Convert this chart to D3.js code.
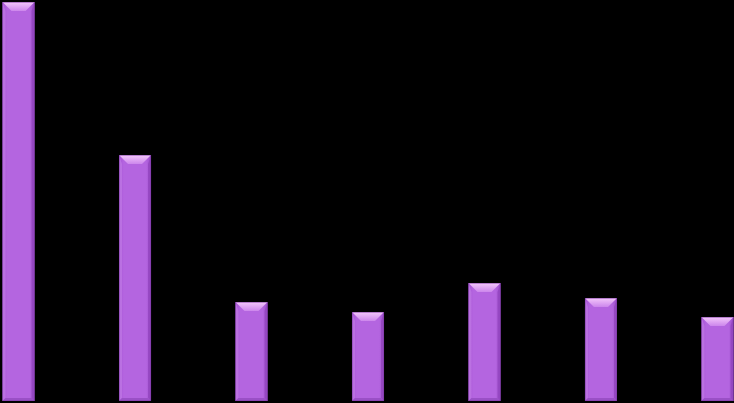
<!DOCTYPE html>
<html>
<head>
<meta charset="utf-8">
<script src="https://cdn.jsdelivr.net/npm/d3@7"></script>
<style>
  html, body { margin: 0; padding: 0; background: #000; }
  svg { display: block; }
</style>
</head>
<body>
<div id="viz"></div>
<script>
// data (bar heights, arbitrary units)
var CATEGORIES = ["A", "B", "C", "D", "E", "F", "G"];
var VALUES = [399, 246, 99, 89, 118, 103, 84];

var W = 734, H = 403;
var BEVEL_TOP = 9, BEVEL_SIDE = 3, BEVEL_BOTTOM = 3;

var svg = d3.select("#viz").append("svg")
    .attr("width", W)
    .attr("height", H);

svg.append("rect").attr("width", W).attr("height", H).attr("fill", "#000");

var x = d3.scaleBand()
    .domain(CATEGORIES)
    .range([2.5, 733.5])
    .paddingInner(0.725)
    .paddingOuter(0);

var y = d3.scaleLinear()
    .domain([0, 400])
    .range([401, 1]);

// gradients
var defs = svg.append("defs");
var body = defs.append("linearGradient").attr("id", "body")
    .attr("x1", 0).attr("x2", 1).attr("y1", 0).attr("y2", 0);
body.append("stop").attr("offset", 0).attr("stop-color", "#a853d6");
body.append("stop").attr("offset", 0.15).attr("stop-color", "#b465e0");
body.append("stop").attr("offset", 0.85).attr("stop-color", "#b465e0");
body.append("stop").attr("offset", 1).attr("stop-color", "#9c4cca");

var top_ = defs.append("linearGradient").attr("id", "topbevel")
    .attr("x1", 0).attr("x2", 0).attr("y1", 0).attr("y2", 1);
top_.append("stop").attr("offset", 0).attr("stop-color", "#f4c8fb");
top_.append("stop").attr("offset", 1).attr("stop-color", "#cc86ec");

var bars = svg.selectAll("g.bar")
    .data(VALUES)
    .enter()
    .append("g")
    .attr("class", "bar")
    .attr("transform", function(d, i){
        return "translate(" + x(CATEGORIES[i]) + "," + y(d) + ")";
    });

var bw = x.bandwidth();

// main body
bars.append("rect")
    .attr("width", bw)
    .attr("height", function(d){ return y(0) - y(d); })
    .attr("fill", "url(#body)");

// left side bevel
bars.append("path")
    .attr("d", function(d){
        var h = y(0) - y(d);
        return "M0,0L" + BEVEL_SIDE + "," + BEVEL_TOP + "L" + BEVEL_SIDE + "," + (h - BEVEL_BOTTOM) + "L0," + h + "Z";
    })
    .attr("fill", "#c07ae6")
    .attr("opacity", 0.7);

// right side bevel
bars.append("path")
    .attr("d", function(d){
        var h = y(0) - y(d);
        return "M" + bw + ",0L" + (bw - BEVEL_SIDE) + "," + BEVEL_TOP + "L" + (bw - BEVEL_SIDE) + "," + (h - BEVEL_BOTTOM) + "L" + bw + "," + h + "Z";
    })
    .attr("fill", "#8e42ba")
    .attr("opacity", 0.7);

// bottom bevel
bars.append("path")
    .attr("d", function(d){
        var h = y(0) - y(d);
        return "M0," + h + "L" + BEVEL_SIDE + "," + (h - BEVEL_BOTTOM) + "L" + (bw - BEVEL_SIDE) + "," + (h - BEVEL_BOTTOM) + "L" + bw + "," + h + "Z";
    })
    .attr("fill", "#9a50c6");

// top bevel
bars.append("path")
    .attr("d", "M0,0L" + bw + ",0L" + (bw - BEVEL_TOP) + "," + BEVEL_TOP + "L" + BEVEL_TOP + "," + BEVEL_TOP + "Z")
    .attr("fill", "url(#topbevel)");

// outline
bars.append("rect")
    .attr("x", 0.25).attr("y", 0.25)
    .attr("width", bw - 0.5)
    .attr("height", function(d){ return y(0) - y(d) - 0.5; })
    .attr("fill", "none")
    .attr("stroke", "#7a3aa0")
    .attr("stroke-width", 0.5);
</script>
</body>
</html>
